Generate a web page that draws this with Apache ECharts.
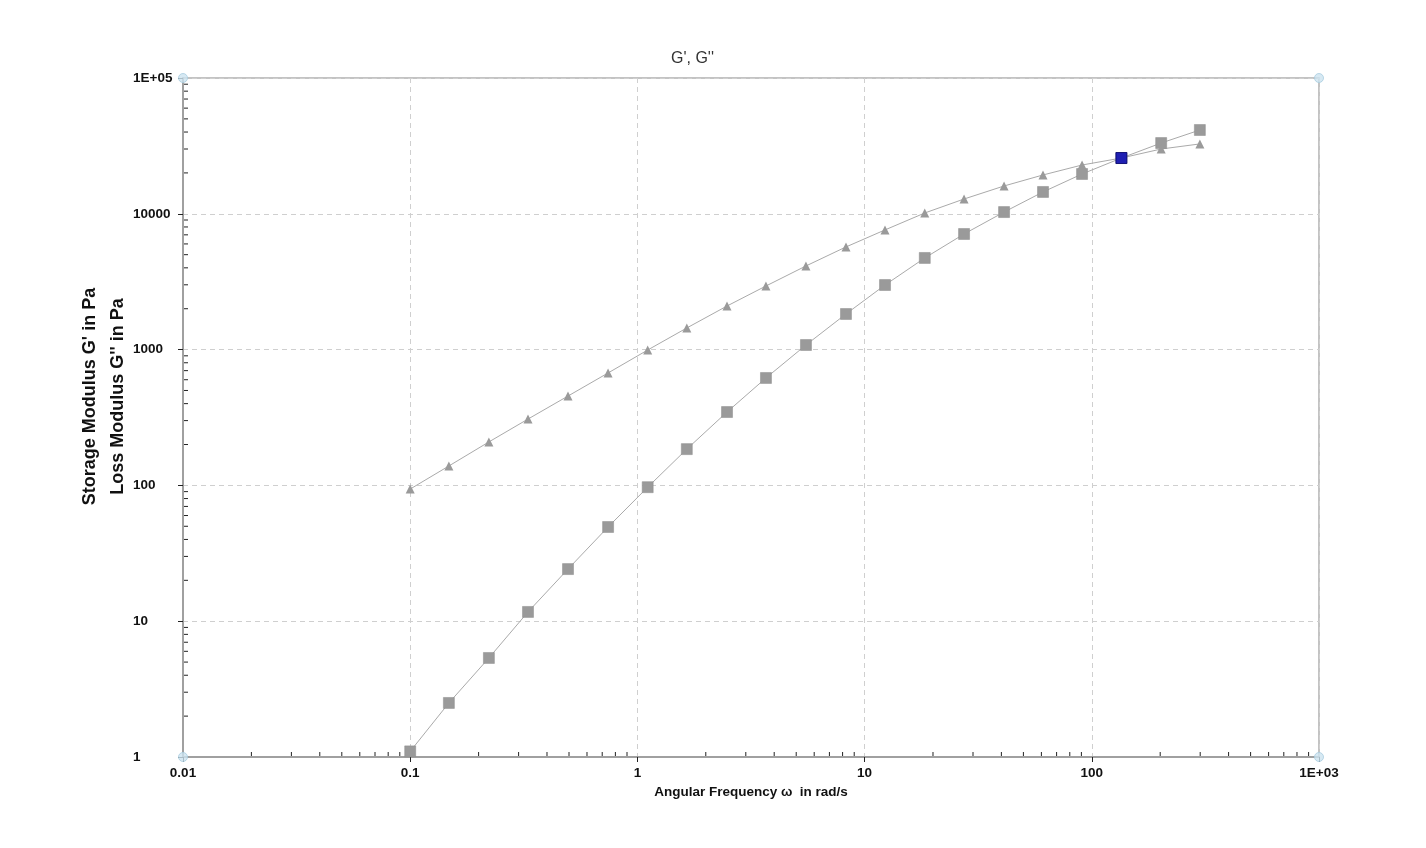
<!DOCTYPE html>
<html><head><meta charset="utf-8">
<script src="https://cdn.jsdelivr.net/npm/echarts@6/dist/echarts.min.js"></script>
<style>html,body{margin:0;padding:0;background:#fff}#c{width:1426px;height:848px}</style>
</head><body><div id="c"></div>
<script>
const frequency = [0.1, 0.148, 0.222, 0.33, 0.495, 0.743, 1.11, 1.65, 2.48, 3.68, 5.52, 8.28, 12.3, 18.4, 27.4, 41.1, 61.0, 90.6, 135, 202, 299];
const storageModulus = [1.1, 2.5, 5.36, 11.7, 24.2, 49.4, 97, 185, 347, 618, 1081, 1829, 2990, 4730, 7100, 10300, 14480, 19640, 25750, 33200, 41400];
const lossModulus = [94, 139, 209, 308, 455, 673, 993, 1443, 2094, 2940, 4130, 5700, 7610, 10140, 12850, 16030, 19320, 22870, 25750, 30000, 32700];
const crossoverPoint = [[135, 25750]];
const xTickValues = [0.01, 0.1, 1, 10, 100, 1000];
const xTickLabels = ['0.01', '0.1', '1', '10', '100', '1E+03'];
const yTickValues = [1, 10, 100, 1000, 10000, 100000];
const yTickLabels = ['1', '10', '100', '1000', '10000', '1E+05'];

function labelFor(values, labels) {
  return function (v) {
    for (let i = 0; i < values.length; i++) {
      if (Math.abs(Math.log10(v) - Math.log10(values[i])) < 1e-6) return labels[i];
    }
    return '';
  };
}
const xMin = xTickValues[0], xMax = xTickValues[xTickValues.length - 1];
const yMin = yTickValues[0], yMax = yTickValues[yTickValues.length - 1];

// minor tick positions (2..9 within each decade)
function minorTicks(values) {
  const out = [];
  for (let i = 0; i < values.length - 1; i++) {
    for (let k = 2; k <= 9; k++) out.push(values[i] * k);
  }
  return out;
}
const xMinor = minorTicks(xTickValues).map(v => [v, yMin]);
const yMinor = minorTicks(yTickValues).map(v => [xMin, v]);
const corners = [[xMin, yMin], [xMin, yMax], [xMax, yMax], [xMax, yMin]];

const font = 'Liberation Sans, Arial, sans-serif';
const chart = echarts.init(document.getElementById('c'));
chart.setOption({
  animation: false,
  backgroundColor: '#fff',
  title: {
    text: "G', G''", left: 666, top: 46,
    textStyle: { fontFamily: font, fontSize: 16, fontWeight: 'normal', color: '#333' }
  },
  grid: { left: 183, right: 107, top: 78, bottom: 91, show: true, borderColor: '#b0b0b0', borderWidth: 1.5, backgroundColor: 'transparent' },
  xAxis: {
    type: 'log', logBase: 10, min: xMin, max: xMax, splitNumber: 5,
    name: 'Angular Frequency ω  in rad/s', nameLocation: 'middle', nameGap: 28,
    nameTextStyle: { fontFamily: font, fontSize: 13.5, fontWeight: 'bold', color: '#111' },
    axisLine: { lineStyle: { color: '#a0a0a0', width: 2 } },
    axisTick: { show: true, length: 5, lineStyle: { color: '#222' } },
    axisLabel: { formatter: labelFor(xTickValues, xTickLabels), fontFamily: font, fontSize: 13.5, fontWeight: 'bold', color: '#111', margin: 9, showMinLabel: true, showMaxLabel: true },
    splitLine: { show: true, lineStyle: { color: '#cfcfcf', type: [5, 4], width: 1 } }
  },
  yAxis: {
    type: 'log', logBase: 10, min: yMin, max: yMax, splitNumber: 5,
    name: "Storage Modulus G' in Pa\nLoss Modulus G'' in Pa", nameLocation: 'middle', nameRotate: 90, nameGap: 51,
    nameMoveOverlap: false,
    nameTextStyle: { fontFamily: font, fontSize: 18, fontWeight: 'bold', color: '#111', lineHeight: 28, padding: [0, 0, 0, 42] },
    axisLine: { lineStyle: { color: '#a0a0a0', width: 2 } },
    axisTick: { show: true, length: 5, lineStyle: { color: '#222' } },
    axisLabel: { formatter: labelFor(yTickValues, yTickLabels), fontFamily: font, fontSize: 13.5, fontWeight: 'bold', color: '#111', margin: 50, align: 'left', showMinLabel: true, showMaxLabel: true },
    splitLine: { show: true, lineStyle: { color: '#cfcfcf', type: [5, 4], width: 1 } }
  },
  series: [
    {
      name: 'xMinor', type: 'custom', data: xMinor, clip: false, silent: true, z: 5,
      renderItem: function (params, api) {
        const p = api.coord([api.value(0), api.value(1)]);
        return { type: 'line', shape: { x1: p[0], y1: p[1] - 1, x2: p[0], y2: p[1] - 5 }, style: { stroke: '#222', lineWidth: 1 } };
      }
    },
    {
      name: 'yMinor', type: 'custom', data: yMinor, clip: false, silent: true, z: 5,
      renderItem: function (params, api) {
        const p = api.coord([api.value(0), api.value(1)]);
        return { type: 'line', shape: { x1: p[0] + 1, y1: p[1], x2: p[0] + 5, y2: p[1] }, style: { stroke: '#222', lineWidth: 1 } };
      }
    },
    {
      name: "G'", type: 'line', data: frequency.map((f, i) => [f, storageModulus[i]]),
      symbol: 'rect', symbolSize: 11, showAllSymbol: true,
      itemStyle: { color: '#9a9a9a', borderColor: '#8c8c8c', borderWidth: 0.5 },
      lineStyle: { color: '#aaaaaa', width: 1 }, z: 3
    },
    {
      name: "G''", type: 'line', data: frequency.map((f, i) => [f, lossModulus[i]]),
      symbol: 'triangle', symbolSize: 9, showAllSymbol: true,
      itemStyle: { color: '#9a9a9a' },
      lineStyle: { color: '#aaaaaa', width: 1 }, z: 3
    },
    {
      name: 'crossover', type: 'scatter', data: crossoverPoint,
      symbol: 'rect', symbolSize: 11,
      itemStyle: { color: '#0000b8', borderColor: '#00006a', borderWidth: 1 }, z: 4
    },
    {
      name: 'corners', type: 'scatter', data: corners, clip: false,
      symbol: 'circle', symbolSize: 9,
      itemStyle: { color: '#cde4f0', borderColor: '#a9cde0', borderWidth: 1 }, z: 6
    }
  ]
});
</script></body></html>
